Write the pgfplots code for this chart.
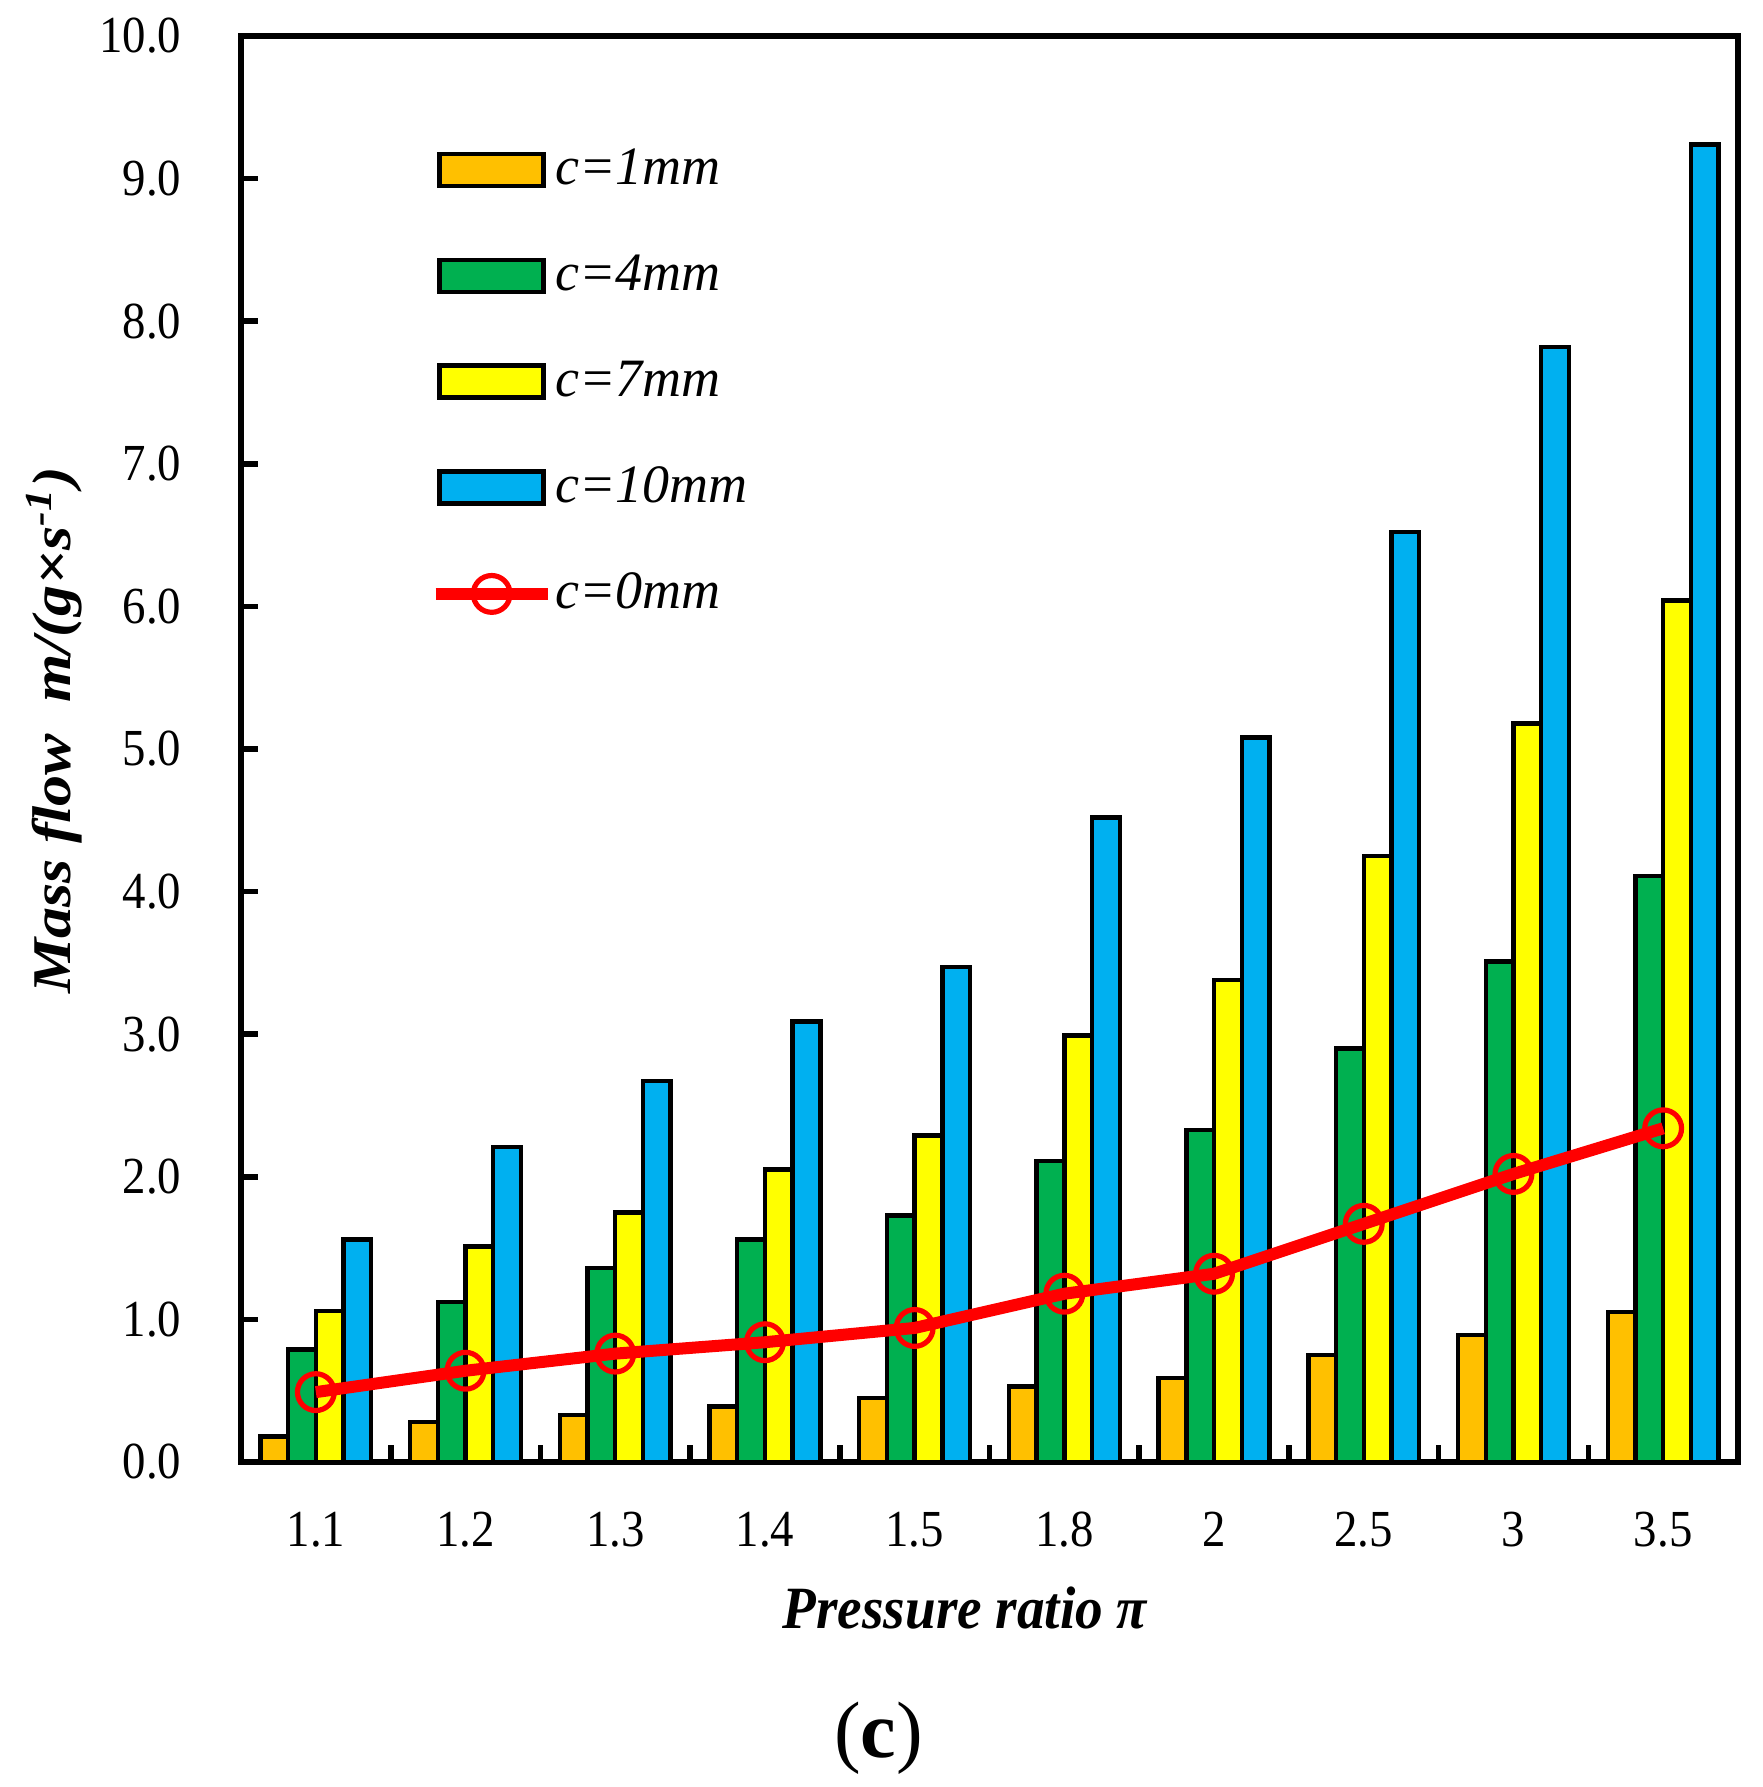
\documentclass[border=0pt]{standalone}
\usepackage{pgfplots}
\pgfplotsset{compat=1.18}
\usepackage{pgfplotstable}
\usepackage{graphicx}
\usepackage{fontspec}
\setmainfont{Liberation Serif}

\definecolor{cone}{HTML}{FFC000}
\definecolor{cfour}{HTML}{00B050}
\definecolor{cseven}{HTML}{FFFF00}
\definecolor{cten}{HTML}{00B0F0}
\definecolor{czero}{HTML}{FF0000}

% the source figure is a little squeezed sideways
\newcommand{\sx}[1]{\scalebox{0.9}[1]{#1}}

% x = category index (1.1, 1.2, ..., 3.5)
\pgfplotstableread{
x  c1   c4   c7   c10  c0
0  0.18 0.79 1.06 1.56 0.49
1  0.28 1.12 1.51 2.21 0.64
2  0.33 1.36 1.75 2.67 0.76
3  0.39 1.56 2.05 3.09 0.84
4  0.45 1.73 2.29 3.47 0.94
5  0.53 2.11 2.99 4.52 1.18
6  0.59 2.33 3.38 5.08 1.32
7  0.75 2.90 4.25 6.52 1.67
8  0.89 3.51 5.18 7.82 2.02
9  1.05 4.11 6.04 9.24 2.34
}\datatable

\pgfplotsset{
  barleg/.style={legend image code/.code={\draw[##1] (0pt,-4pt) rectangle (26pt,4pt);}},
  lineleg/.style={legend image code/.code={\draw[mark repeat=2,mark phase=2,##1] plot coordinates {(-1pt,0pt)(13pt,0pt)(27pt,0pt)};}},
  mybar/.style={ybar, bar width=0.185, bar shift=#1, draw=black, line width=1.1pt, barleg},
}

\begin{document}
\begin{tikzpicture}
  \begin{axis}[
    name=ax,
    scale only axis,
    width=374.25pt, height=356.5pt,
    xmin=-0.5, xmax=9.5, ymin=0, ymax=10,
    clip=false,
    axis line style={line width=1.4pt},
    tick style={line width=1.4pt, black},
    tick align=inside,
    xtick pos=bottom, ytick pos=left,
    major tick length=4.3pt,
    xtick={0.5,1.5,...,8.5}, xticklabels={},
    extra x ticks={0,1,...,9},
    extra x tick labels={\sx{1.1},\sx{1.2},\sx{1.3},\sx{1.4},\sx{1.5},\sx{1.8},\sx{2},\sx{2.5},\sx{3},\sx{3.5}},
    extra x tick style={major tick length=0pt},
    xticklabel style={font=\fontsize{13}{15}\selectfont, inner sep=0pt, anchor=north, yshift=-12.25pt},
    ytick={0,1,...,10},
    yticklabel={\sx{\pgfmathprintnumber[fixed,fixed zerofill,precision=1,assume math mode=true]{\tick}}},
    yticklabel style={font=\fontsize{13}{15}\selectfont, inner sep=0pt, anchor=east, xshift=-14.75pt},
    xlabel={\scalebox{0.92}[1]{\textbf{\textit{Pressure ratio π}}}},
    xlabel style={font=\fontsize{15}{17}\selectfont, at={(axis description cs:0.484,-0.1171)}, anchor=base, inner sep=0pt},
    ylabel={\scalebox{1}[0.88]{\textbf{\textit{Mass flow\ \ m/(g×s\textsuperscript{-1})}}}},
    ylabel style={font=\fontsize{15.5}{17}\selectfont, at={(axis description cs:-0.1142,0.513)}, anchor=base, inner sep=0pt},
    legend style={at={(axis description cs:0.1255,0.9225)}, anchor=north west, draw=none, fill=none,
      inner sep=0pt, row sep=15.3pt, font=\itshape\fontsize{13.5}{15}\selectfont,
      nodes={inner sep=0.4pt}},
    legend cell align=left,
  ]
    \addplot[mybar=-0.2775, fill=cone]  table[x=x, y=c1]  {\datatable};
    \addplot[mybar=-0.0925, fill=cfour] table[x=x, y=c4]  {\datatable};
    \addplot[mybar=0.0925,  fill=cseven] table[x=x, y=c7] {\datatable};
    \addplot[mybar=0.2775,  fill=cten]  table[x=x, y=c10] {\datatable};
    \addplot[czero, line width=3pt, line join=round, mark=o, mark size=4.6pt,
      mark options={line width=1.3pt, solid}, lineleg]
      table[x=x, y=c0] {\datatable};
    \legend{c=1mm, c=4mm, c=7mm, c=10mm, c=0mm}
    \node[font=\fontsize{20}{22}\selectfont, anchor=base, inner sep=0pt] at (axis description cs:0.426,-0.2069) {(\textbf{c})};
  \end{axis}
  \pgfresetboundingbox
  \path ([shift={(-60.25pt,-81.25pt)}]ax.south west) rectangle ++(440.75pt,446.75pt);
\end{tikzpicture}
\end{document}
